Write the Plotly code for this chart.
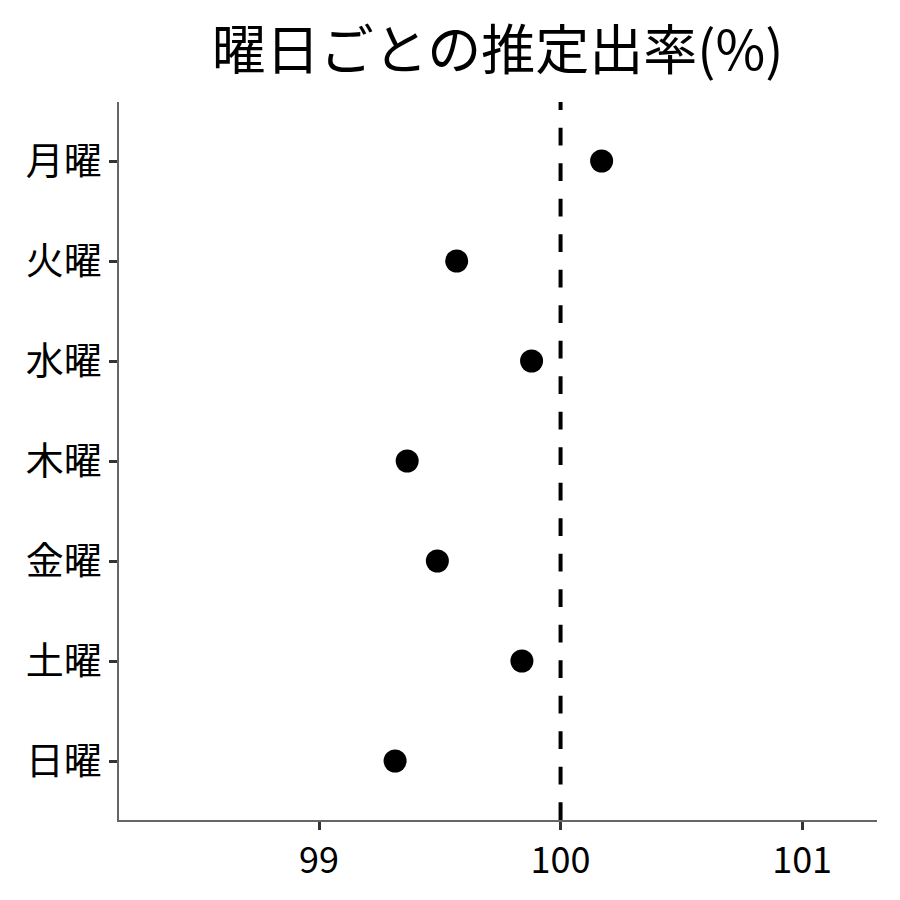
import plotly.graph_objects as go

days = ["月曜", "火曜", "水曜", "木曜", "金曜", "土曜", "日曜"]
rates = [100.17, 99.57, 99.88, 99.365, 99.49, 99.84, 99.315]
ref_value = 100
x_ticks = [99, 100, 101]
title_text = "曜日ごとの推定出率(%)"

FONT = "Noto Sans CJK JP"

fig = go.Figure()
fig.add_trace(go.Scatter(
    x=rates, y=days, mode="markers",
    marker=dict(color="black", size=23, line=dict(width=0)),
    hoverinfo="x+y", showlegend=False,
))

fig.add_shape(type="line", xref="x", yref="paper",
              x0=ref_value, x1=ref_value, y0=0, y1=1,
              line=dict(color="black", width=4, dash="17.75px,17.75px"))

fig.update_layout(
    width=900, height=900,
    paper_bgcolor="white", plot_bgcolor="white",
    margin=dict(l=111, r=31, t=94, b=88),
    font=dict(family=FONT, color="black"),
    title=dict(text=title_text, x=0.544, xanchor="center", y=0.952, yanchor="middle",
               font=dict(size=54, family=FONT, color="black")),
)
fig.update_xaxes(
    range=[98.172, 101.31], tickvals=x_ticks, ticktext=[str(v) for v in x_ticks],
    showgrid=False, zeroline=False, showline=True, linecolor="#666666", linewidth=1.5,
    ticks="outside", ticklen=8, tickwidth=3, tickcolor="#333333",
    tickfont=dict(size=36, family=FONT, color="black"),
)
fig.update_yaxes(
    categoryorder="array", categoryarray=days, autorange=False, range=[6.59, -0.59],
    showgrid=False, zeroline=False, showline=True, linecolor="#666666", linewidth=1.5,
    ticks="outside", ticklen=8, tickwidth=3, tickcolor="#333333",
    tickfont=dict(size=38, family=FONT, color="black"),
)

fig.write_html("out.html")
